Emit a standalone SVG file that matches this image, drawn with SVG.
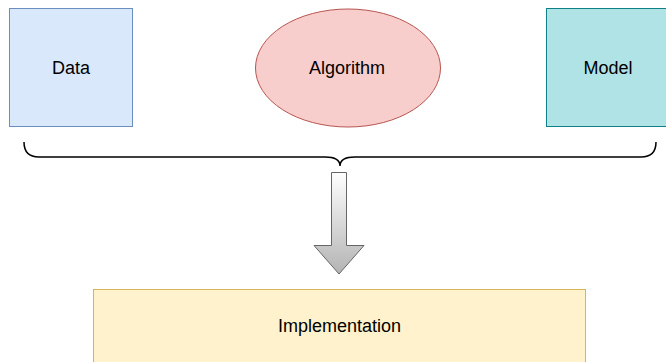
<svg xmlns="http://www.w3.org/2000/svg" width="666" height="362" viewBox="0 0 666 362">
  <style>
    .label { font-family: "Liberation Sans", Arial, Helvetica, sans-serif; font-size: 18px; fill: #000000; text-anchor: middle; }
    .brace { fill: none; stroke: #000000; stroke-width: 1.5; }
  </style>
  <defs>
    <linearGradient id="arrowFill" x1="0" y1="0" x2="0" y2="1">
      <stop offset="0" stop-color="#ffffff"/>
      <stop offset="1" stop-color="#b3b3b3"/>
    </linearGradient>
  </defs>
  <rect width="666" height="362" fill="#ffffff"/>

  <g id="data">
    <rect x="9.5" y="8.5" width="123" height="118" fill="#dae8fc" stroke="#6c8ebf"/>
    <text class="label" x="71" y="73.5">Data</text>
  </g>

  <g id="algorithm">
    <ellipse cx="348" cy="68" rx="92.5" ry="59" fill="#f8cecc" stroke="#b85450"/>
    <text class="label" x="347" y="73.5">Algorithm</text>
  </g>

  <g id="model">
    <rect x="546.5" y="8.5" width="123" height="118" fill="#b0e3e6" stroke="#0e8088"/>
    <text class="label" x="608" y="73.5">Model</text>
  </g>

  <g id="implementation">
    <rect x="93.5" y="289.5" width="492" height="80" fill="#fff2cc" stroke="#d6b656"/>
    <text class="label" x="339.5" y="332">Implementation</text>
  </g>

  <g id="connectors">
    <!-- curly brace gathering the three inputs -->
    <path class="brace" d="M24 142 Q24 157 39 157 L325 157 Q340 157 340 166 Q340 157 355 157 L641 157 Q656 157 656 142"/>
    <!-- block arrow down to the implementation -->
    <path d="M331.5 172.5 L346.5 172.5 L346.5 245.5 L364 245.5 L339 274 L314 245.5 L331.5 245.5 Z" fill="url(#arrowFill)" stroke="#666666"/>
  </g>
</svg>
